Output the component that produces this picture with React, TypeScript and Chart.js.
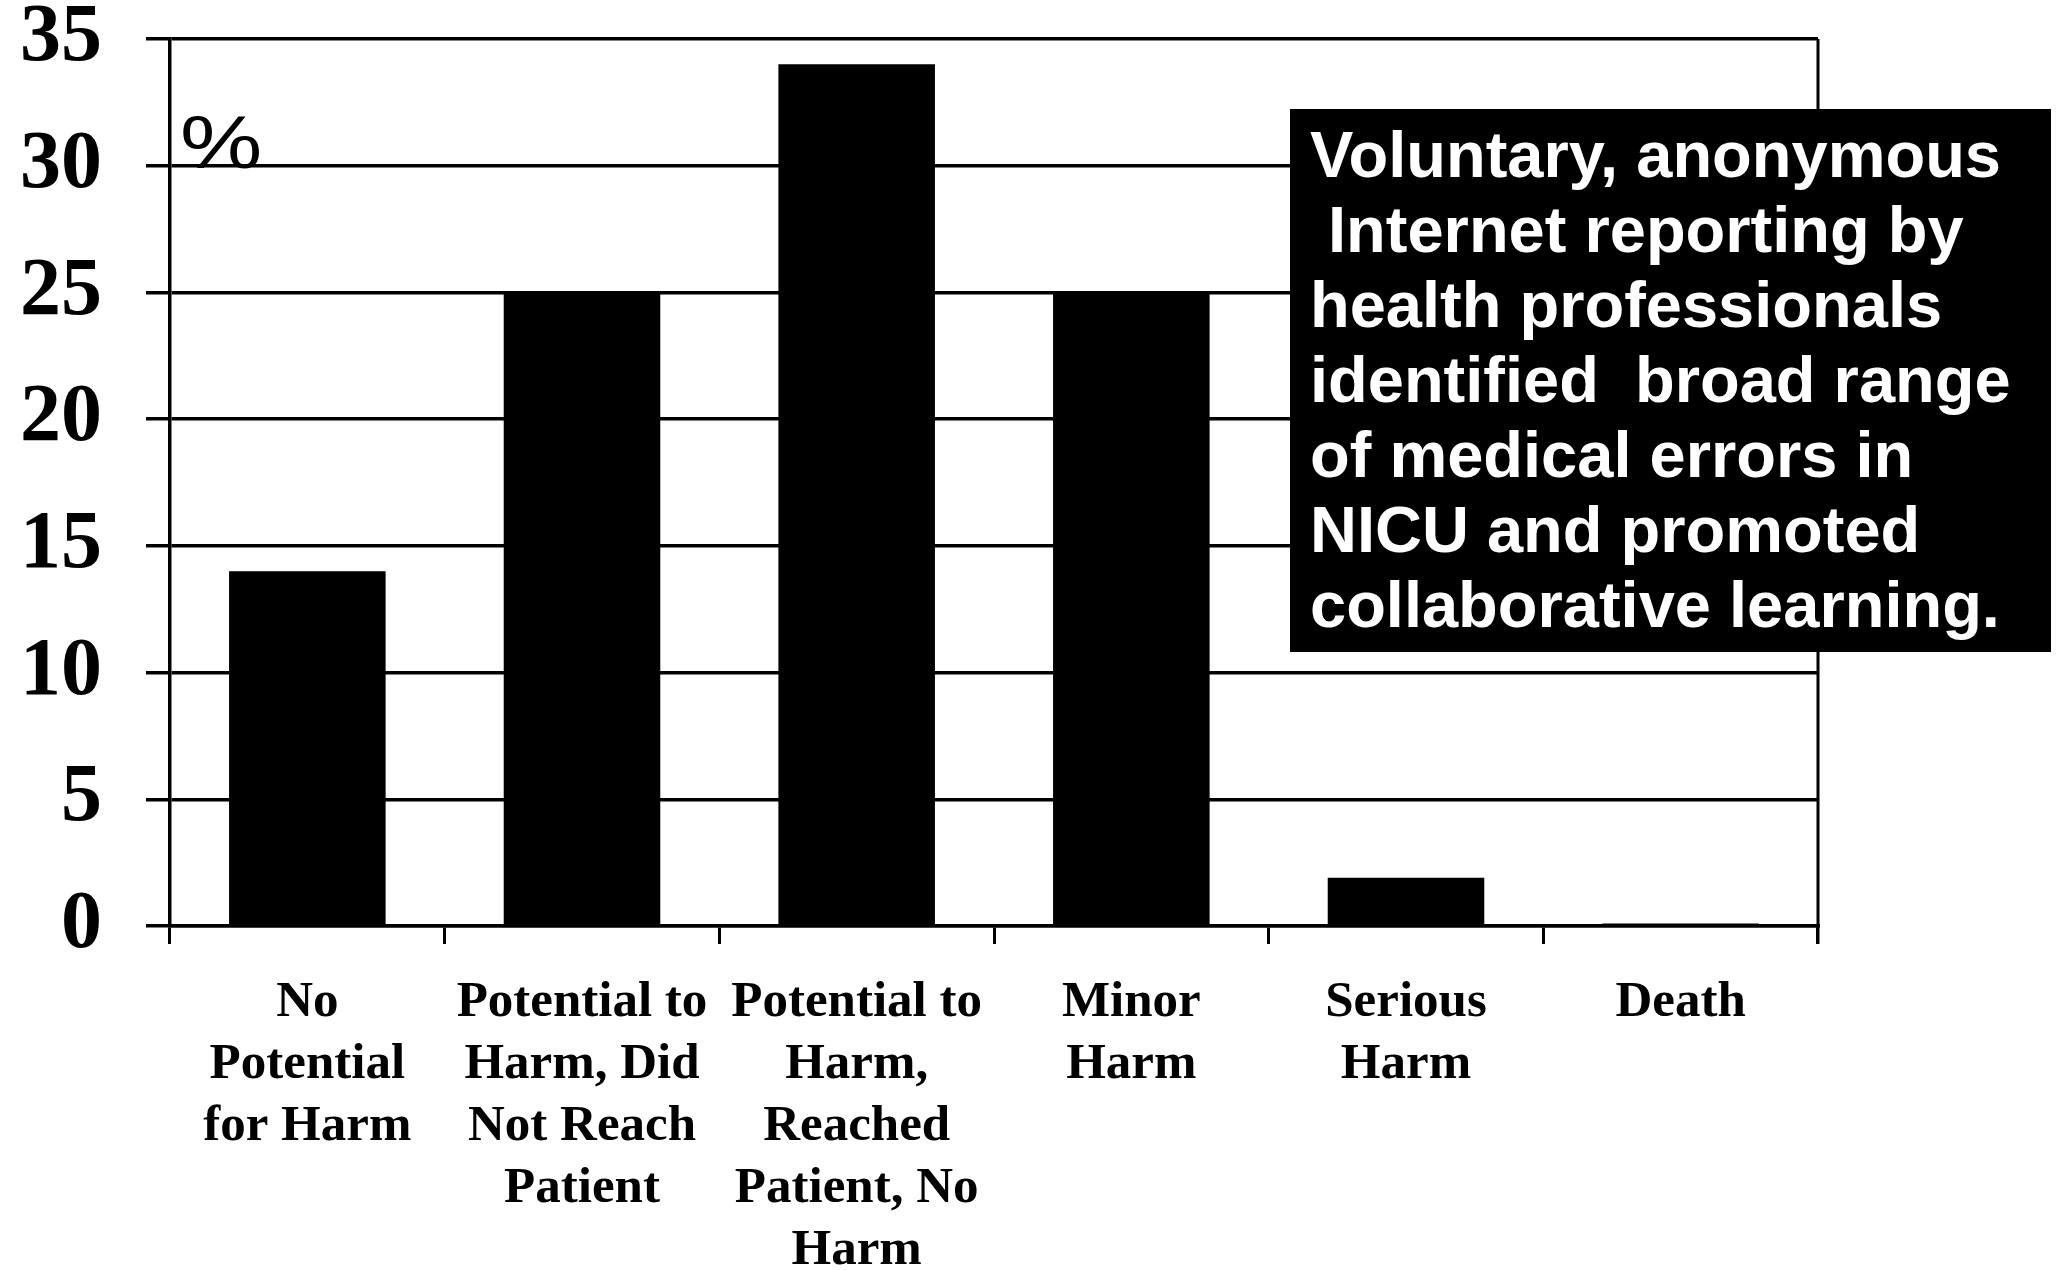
import React, { useEffect, useRef } from "react";
import { Chart, registerables } from "chart.js";

Chart.register(...registerables);

const categories: string[][] = [
  ["No", "Potential", "for Harm"],
  ["Potential to", "Harm, Did", "Not Reach", "Patient"],
  ["Potential to", "Harm,", "Reached", "Patient, No", "Harm"],
  ["Minor", "Harm"],
  ["Serious", "Harm"],
  ["Death"],
];
const percentValues: number[] = [14, 25, 34, 25, 1.9, 0.1];
const yTicks: number[] = [0, 5, 10, 15, 20, 25, 30, 35];
const unitLabel = "%";
const noteLines: string[] = [
  "Voluntary, anonymous",
  " Internet reporting by",
  "health professionals",
  "identified  broad range",
  "of medical errors in",
  "NICU and promoted",
  "collaborative learning.",
];

const W = 2057;
const H = 1270;

export default function App() {
  const ref = useRef<HTMLCanvasElement | null>(null);

  useEffect(() => {
    if (!ref.current) return;
    const overlay = {
      id: "overlay",
      afterDraw(chart: any) {
        const { ctx, chartArea } = chart;
        ctx.save();
        // right frame line
        ctx.strokeStyle = "#000";
        ctx.lineWidth = 3;
        ctx.beginPath();
        ctx.moveTo(chartArea.right, chartArea.top);
        ctx.lineTo(chartArea.right, chartArea.bottom + 18);
        ctx.stroke();
        // % label (wide sans glyph)
        ctx.save();
        ctx.fillStyle = "#000";
        ctx.font = "74px 'Liberation Sans', Arial, sans-serif";
        ctx.textBaseline = "alphabetic";
        ctx.textAlign = "left";
        ctx.translate(chartArea.left + 10, 168);
        ctx.scale(1.25, 1);
        ctx.fillText(unitLabel, 0, 0);
        ctx.restore();
        // note box
        const bx = 1290, by = 109, bw = 2051 - 1290, bh = 652 - 109;
        ctx.fillStyle = "#000";
        ctx.fillRect(bx, by, bw, bh);
        ctx.fillStyle = "#fff";
        ctx.font = "bold 65px 'Liberation Sans', Arial, sans-serif";
        ctx.textBaseline = "middle";
        ctx.textAlign = "left";
        noteLines.forEach((line, i) => {
          ctx.fillText(line, 1310, 159 + i * 75);
        });
        ctx.restore();
      },
    };

    const chart = new Chart(ref.current, {
      type: "bar",
      data: {
        labels: categories,
        datasets: [
          {
            data: percentValues,
            backgroundColor: "#000",
            borderWidth: 0,
            barPercentage: 0.57,
            categoryPercentage: 1,
          },
        ],
      },
      options: {
        responsive: false,
        animation: false,
        events: [],
        layout: { padding: { top: 39, right: 239, left: 0, bottom: 0 } },
        plugins: {
          legend: { display: false },
          tooltip: { enabled: false },
          title: { display: false },
        },
        scales: {
          x: {
            offset: true,
            grid: {
              offset: true,
              drawOnChartArea: false,
              drawTicks: true,
              tickLength: 18,
              color: "#000",
              lineWidth: 3,
            },
            border: { display: true, color: "#000", width: 3.5 },
            ticks: {
              color: "#000",
              padding: 28,
              maxRotation: 0,
              autoSkip: false,
              font: {
                family: "'Liberation Serif', 'Times New Roman', serif",
                weight: "bold",
                size: 51,
                lineHeight: 1.215,
              },
            },
            afterFit(scale: any) {
              scale.height = H - 926;
              scale.paddingLeft = 0;
              scale.paddingRight = 0;
            },
          },
          y: {
            min: 0,
            max: 35,
            afterBuildTicks(scale: any) {
              scale.ticks = yTicks.map((v) => ({ value: v }));
            },
            grid: {
              color: "#000",
              lineWidth: 3.5,
              tickLength: 24,
            },
            border: { display: true, color: "#000", width: 3.5 },
            ticks: {
              color: "#000",
              padding: 44,
              font: {
                family: "'Liberation Serif', 'Times New Roman', serif",
                weight: "bold",
                size: 82,
              },
            },
            afterFit(scale: any) {
              scale.width = 170;
              scale.paddingTop = 0;
              scale.paddingBottom = 0;
            },
          },
        },
      },
      plugins: [overlay],
    });
    return () => chart.destroy();
  }, []);

  return (
    <div style={{ position: "fixed", left: 0, top: 0, width: W, height: H, background: "#fff" }}>
      <canvas ref={ref} width={W} height={H} style={{ width: W, height: H, display: "block" }} />
    </div>
  );
}
